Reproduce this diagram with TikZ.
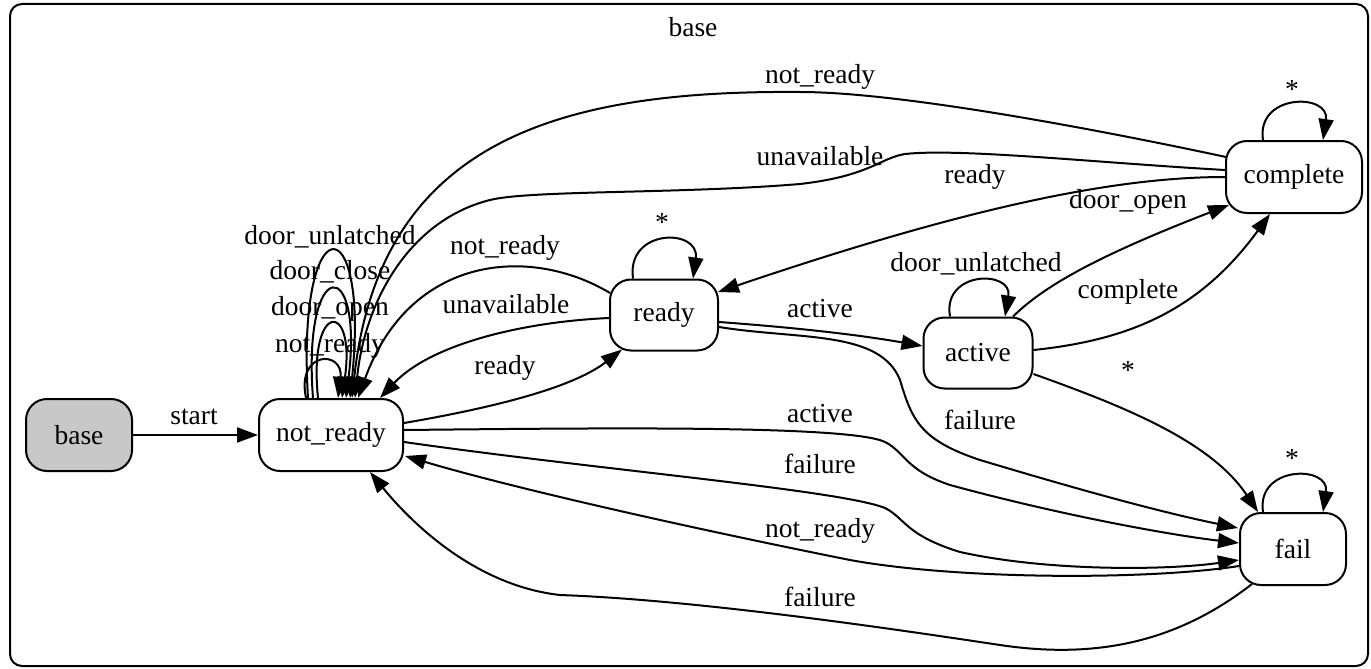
\documentclass[tikz,border=0pt]{standalone}
\usepackage{fontspec}
\setmainfont{Liberation Serif}
\usetikzlibrary{arrows.meta}
\definecolor{startfill}{RGB}{200,200,200}
\begin{document}
\begin{tikzpicture}[x=1pt,y=-1pt,
  every node/.style={font=\fontsize{27.5}{30}\selectfont},
  state/.style={draw, line width=2pt, rounded corners=21pt, inner sep=0pt,
    minimum height=72pt, fill=white},
  edge/.style={line width=2pt, -{Triangle[length=21pt,width=15pt]}},
  lbl/.style={inner sep=0pt}]
\useasboundingbox (0,0) rectangle (1371,669);

% enclosing cluster
\draw[line width=2pt, rounded corners=12pt] (10,4) rectangle (1368,666);
\node[lbl] (title) at (693,27) {base};

% states
\node[state, fill=startfill, minimum width=106pt] (bs) at (79,435) {base};
\node[state, minimum width=144pt] (nr) at (331,435) {not\_ready};
\node[state, minimum width=108pt, minimum height=71pt] (rd) at (664,315) {ready};
\node[state, minimum width=109pt, minimum height=71pt] (ac) at (978,353) {active};
\node[state, minimum width=136pt] (cp) at (1294,177) {complete};
\node[state, minimum width=106pt] (fl) at (1293,549) {fail};

% start
\draw[edge] (bs.east) -- (nr.west);
\node[lbl] (l-start) at (194,417) {start};

% self loops on not_ready
\draw[edge] ([shift={(-25,0)}]nr.north) .. controls (296,350) and (344,350) .. ([shift={(7,0)}]nr.north);
\draw[edge] ([shift={(-13,0)}]nr.north) .. controls (308,300) and (356,300) .. ([shift={(11,0)}]nr.north);
\draw[edge] ([shift={(-18,0)}]nr.north) .. controls (302,254) and (364,254) .. ([shift={(15,0)}]nr.north);
\draw[edge] ([shift={(-23,0)}]nr.north) .. controls (296,203) and (370,203) .. ([shift={(19,0)}]nr.north);
\node[lbl] (l-nl1) at (330,346) {not\_ready};
\node[lbl] (l-nl2) at (330,309) {door\_open};
\node[lbl] (l-nl3) at (330,272) {door\_close};
\node[lbl] (l-nl4) at (330,237) {door\_unlatched};

% not_ready -> ready
\draw[edge] ([shift={(0,-12)}]nr.east) .. controls (480,410) and (570,390) .. ([shift={(-42,-2)}]rd.south);
\node[lbl] (l-nr-rd) at (505,368) {ready};

% ready -> not_ready
\draw[edge] ([shift={(0,3)}]rd.west) .. controls (520,322) and (430,345) .. ([shift={(49,0)}]nr.north);
\node[lbl] (l-rd-nr-u) at (506,304) {unavailable};
\draw[edge] ([shift={(1,-22)}]rd.west) .. controls (530,245) and (410,255) .. ([shift={(27,0)}]nr.north);
\node[lbl] (l-rd-nr-n) at (505,248) {not\_ready};

% complete -> not_ready
\draw[edge] ([shift={(1,-20)}]cp.west) .. controls (1100,130) and (900,92) .. (800,92)
  .. controls (560,90) and (380,140) .. ([shift={(21,0)}]nr.north);
\node[lbl] (l-cp-nr-n) at (820,77) {not\_ready};
\draw[edge] ([shift={(0,-7)}]cp.west) .. controls (1100,163) and (960,148) .. (905,154)
  .. controls (880,158) and (870,176) .. (800,184)
  .. controls (680,194) and (530,190) .. (490,200)
  .. controls (410,220) and (365,300) .. ([shift={(24,0)}]nr.north);
\node[lbl] (l-cp-nr-u) at (820,156) {unavailable};

% complete -> ready
\draw[edge] (cp.west) .. controls (1110,177) and (960,210) .. ([shift={(-1,-23)}]rd.east);
\node[lbl] (l-cp-rd) at (975,177) {ready};

% ready self loop
\draw[edge] ([shift={(-31,0)}]rd.north) .. controls (626,228) and (700,228) .. ([shift={(29,0)}]rd.north);
\node[lbl] (l-rd-rd) at (662,222) {*};

% ready -> active, ready -> fail
\draw[edge] ([shift={(0,7)}]rd.east) .. controls (800,328) and (860,335) .. ([shift={(0,-7)}]ac.west);
\node[lbl] (l-rd-ac) at (820,309) {active};
\draw[edge] ([shift={(0,12)}]rd.east) .. controls (800,340) and (880,330) .. (900,380)
  .. controls (912,420) and (920,440) .. (980,460)
  .. controls (1080,490) and (1160,512) .. ([shift={(-1,-21)}]fl.west);
\node[lbl] (l-rd-fl) at (980,420) {failure};

% active self loop
\draw[edge] ([shift={(-28,0)}]ac.north) .. controls (942,270) and (1013,270) .. ([shift={(27,0)}]ac.north);
\node[lbl] (l-ac-ac) at (976,264) {door\_unlatched};

% active -> complete
\draw[edge] ([shift={(35,0)}]ac.north) .. controls (1045,285) and (1100,255) .. ([shift={(4,28)}]cp.west);
\node[lbl] (l-ac-cp-d) at (1128,202) {door\_open};
\draw[edge] ([shift={(0,-3)}]ac.east) .. controls (1130,340) and (1200,310) .. ([shift={(-24,0)}]cp.south);
\node[lbl] (l-ac-cp-c) at (1128,292) {complete};

% active -> fail
\draw[edge] ([shift={(0,21)}]ac.east) .. controls (1120,405) and (1210,440) .. ([shift={(-35,0)}]fl.north);
\node[lbl] (l-ac-fl) at (1128,370) {*};

% complete / fail self loops
\draw[edge] ([shift={(-31,0)}]cp.north) .. controls (1256,93) and (1330,93) .. ([shift={(29,0)}]cp.north);
\node[lbl] (l-cp-cp) at (1292,89) {*};
\draw[edge] ([shift={(-30,0)}]fl.north) .. controls (1256,465) and (1330,465) .. ([shift={(30,0)}]fl.north);
\node[lbl] (l-fl-fl) at (1292,458) {*};

% not_ready -> fail
\draw[edge] ([shift={(0,-5)}]nr.east) .. controls (600,428) and (850,425) .. (885,442)
  .. controls (905,452) and (905,470) .. (950,485)
  .. controls (1060,515) and (1170,535) .. ([shift={(0,-6)}]fl.west);
\node[lbl] (l-nr-fl-a) at (820,414) {active};
\draw[edge] ([shift={(0,7)}]nr.east) .. controls (600,470) and (840,490) .. (885,508)
  .. controls (905,518) and (905,535) .. (960,552)
  .. controls (1050,572) and (1170,570) .. ([shift={(0,11)}]fl.west);
\node[lbl] (l-nr-fl-f) at (820,464) {failure};

% fail -> not_ready
\draw[edge] ([shift={(0,17)}]fl.west) .. controls (1150,580) and (960,580) .. (850,560)
  .. controls (700,530) and (520,490) .. ([shift={(1,21)}]nr.east);
\node[lbl] (l-fl-nr-n) at (820,531) {not\_ready};
\draw[edge] ([shift={(-41,-2)}]fl.south) .. controls (1180,640) and (1100,660) .. (1000,645)
  .. controls (900,630) and (700,600) .. (560,595)
  .. controls (470,585) and (405,515) .. ([shift={(39,0)}]nr.south);
\node[lbl] (l-fl-nr-f) at (820,597) {failure};
\end{tikzpicture}
\end{document}
